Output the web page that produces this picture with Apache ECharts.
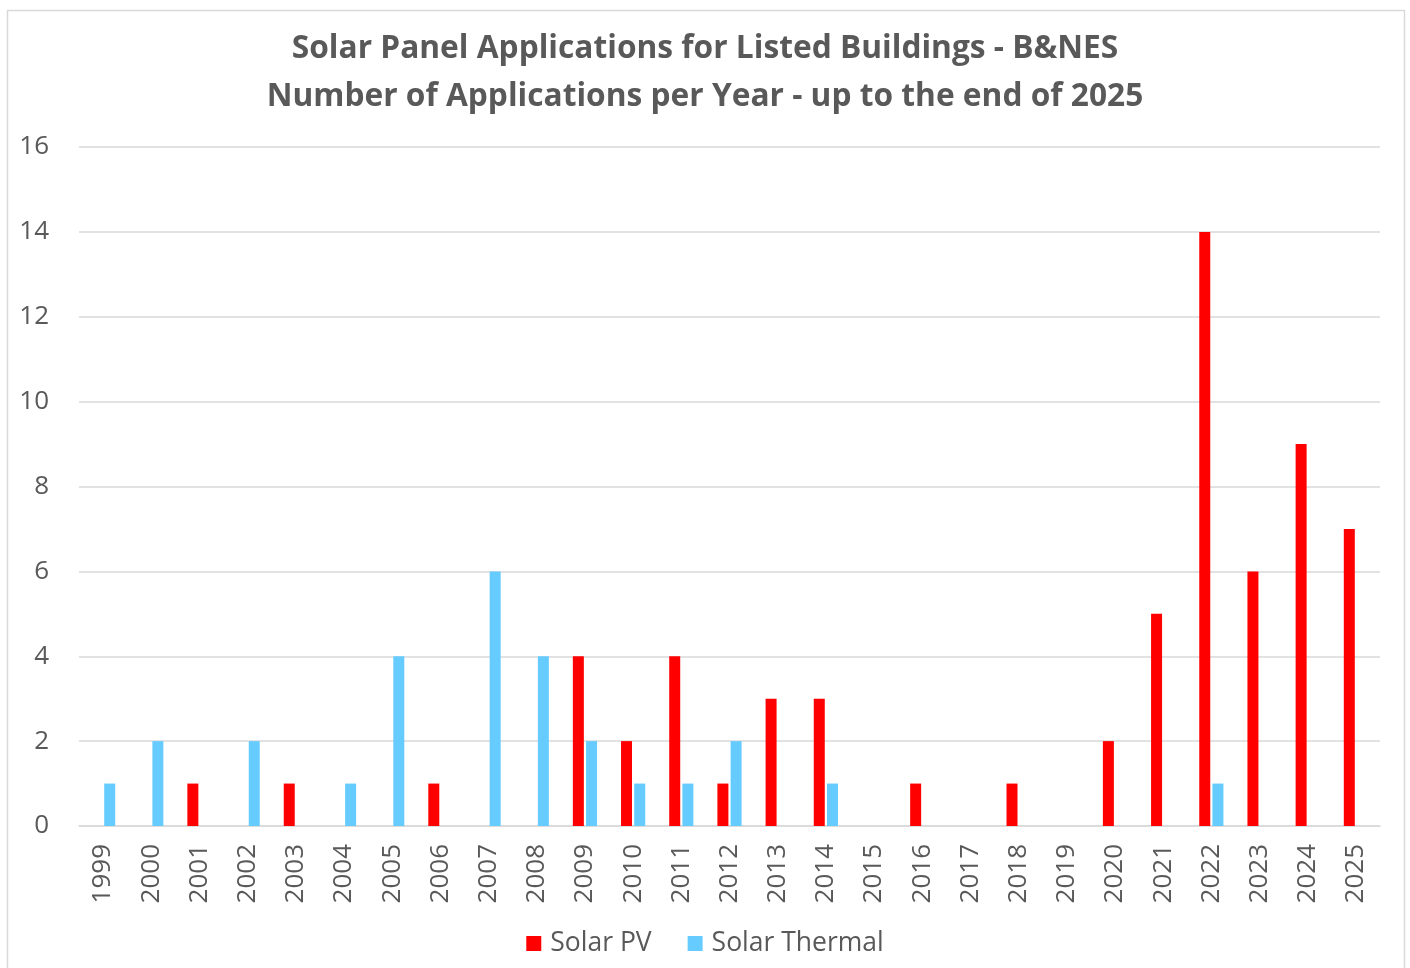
<!DOCTYPE html>
<html>
<head>
<meta charset="utf-8">
<script src="https://cdn.jsdelivr.net/npm/echarts@6/dist/echarts.min.js"></script>
<style>
  html, body { margin: 0; padding: 0; background: #fff; }
  #chart { width: 1410px; height: 968px; }
</style>
</head>
<body>
<div id="chart"></div>
<script>
// years on the x axis
const years = ['1999', '2000', '2001', '2002', '2003', '2004', '2005', '2006', '2007',
  '2008', '2009', '2010', '2011', '2012', '2013', '2014', '2015', '2016', '2017',
  '2018', '2019', '2020', '2021', '2022', '2023', '2024', '2025']

// applications per year
const solarPV = [0, 0, 1, 0, 1, 0, 0, 1, 0, 0, 4, 2, 4, 1, 3, 3, 0, 1, 0, 1, 0, 2, 5, 14, 6, 9, 7]
const solarThermal = [1, 2, 0, 2, 0, 1, 4, 0, 6, 4, 2, 1, 1, 2, 0, 1, 0, 0, 0, 0, 0, 0, 0, 1, 0, 0, 0]

const textColor = '#595959'
const font = '"Open Sans", "Noto Sans", sans-serif'

const chart = echarts.init(document.getElementById('chart'))

chart.setOption({
  animation: false,
  textStyle: { fontFamily: font },
  // outer chart frame
  graphic: [{
    type: 'rect',
    shape: { x: 7.5, y: 10.5, width: 1397, height: 980 },
    style: { fill: 'none', stroke: '#d9d9d9', lineWidth: 1.5 },
    silent: true
  }],
  title: {
    text: 'Solar Panel Applications for Listed Buildings - B&NES\nNumber of Applications per Year - up to the end of 2025',
    left: 'center',
    top: 20,
    textStyle: {
      fontFamily: font,
      fontSize: 31.7,
      fontWeight: 'bold',
      color: textColor,
      lineHeight: 48
    }
  },
  legend: {
    bottom: 6,
    left: 'center',
    icon: 'rect',
    itemWidth: 15,
    itemHeight: 15,
    itemGap: 36,
    textStyle: { fontFamily: font, fontSize: 26.5, color: textColor, padding: [0, 0, 0, 4] },
    data: ['Solar PV', 'Solar Thermal']
  },
  grid: { left: 79, right: 30, top: 147, bottom: 142, containLabel: false },
  xAxis: {
    type: 'category',
    data: years,
    axisLine: { lineStyle: { color: '#d9d9d9', width: 1.5 } },
    axisTick: { show: false },
    axisLabel: {
      rotate: 90,
      margin: 18,
      fontSize: 26,
      color: textColor,
      fontFamily: font
    }
  },
  yAxis: {
    type: 'value',
    min: 0,
    max: 16,
    interval: 2,
    axisLine: { show: false },
    axisTick: { show: false },
    splitLine: { lineStyle: { color: '#d9d9d9', width: 1.5 } },
    axisLabel: { fontSize: 26, color: textColor, margin: 30, fontFamily: font }
  },
  series: [
    {
      name: 'Solar PV',
      type: 'bar',
      data: solarPV,
      barWidth: 11,
      barGap: '20%',
      itemStyle: { color: '#ff0000' }
    },
    {
      name: 'Solar Thermal',
      type: 'bar',
      data: solarThermal,
      barWidth: 11,
      itemStyle: { color: '#66ccff' }
    }
  ]
})

window.addEventListener('resize', () => chart.resize())
</script>
</body>
</html>
